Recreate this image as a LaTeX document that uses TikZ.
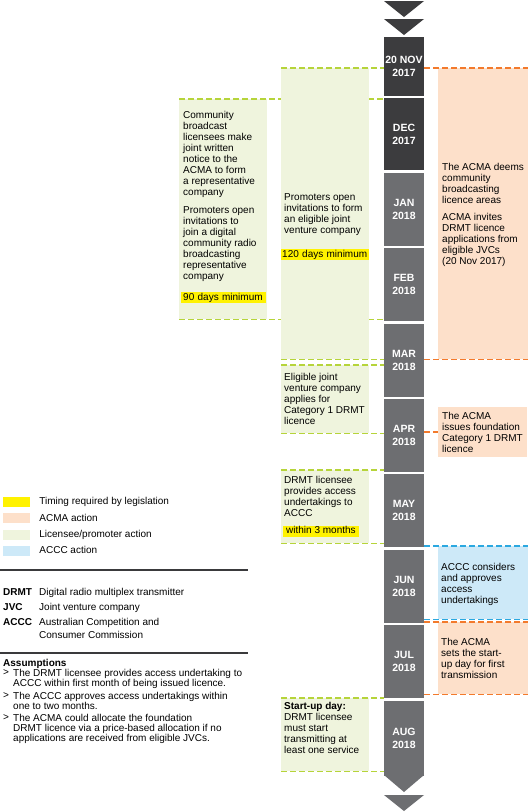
\documentclass[tikz,border=0pt]{standalone}
\usepackage{fontspec}
\setmainfont{Liberation Sans}
\usepackage{xcolor}
\usetikzlibrary{positioning}

\definecolor{darkblock}{HTML}{3C3C3E}
\definecolor{monthgrey}{HTML}{6D6E71}
\definecolor{promofill}{HTML}{EFF4DD}
\definecolor{promoline}{HTML}{B6D43A}
\definecolor{acmafill}{HTML}{FDE0CA}
\definecolor{acmaline}{HTML}{F37A2C}
\definecolor{acccfill}{HTML}{CDE9F8}
\definecolor{acccline}{HTML}{2BA8E0}
\definecolor{timing}{HTML}{FFF200}
\definecolor{rulegrey}{HTML}{3A3A3C}

\begin{document}
\begin{tikzpicture}[
x=1pt, y=-1pt, node distance=2pt,
month/.style={fill=monthgrey, text=white, minimum width=40pt, minimum height=73pt, inner sep=0pt, align=center, font=\fontsize{10.5}{13}\selectfont\bfseries},
early/.style={month, fill=darkblock},
panel/.style={anchor=north west, inner sep=0pt, minimum width=88pt},
promobox/.style={panel, fill=promofill},
acmabox/.style={panel, fill=acmafill, minimum width=90pt},
acccbox/.style={panel, fill=acccfill, minimum width=90pt},
blurb/.style={anchor=north west, inner sep=0pt, align=left, font=\fontsize{10}{11}\selectfont},
timebar/.style={anchor=north west, fill=timing, inner xsep=2pt, inner ysep=1pt, text height=7pt, text depth=2pt, align=left, font=\fontsize{10}{11}\selectfont},
promodash/.style={draw=promoline, line width=1.8pt, dash pattern=on 6pt off 3pt},
acmadash/.style={promodash, draw=acmaline},
acccdash/.style={promodash, draw=acccline},
swatch/.style={minimum width=27pt, minimum height=10pt, inner sep=0pt},
keytext/.style={inner sep=0pt, text height=7.5pt, text depth=2pt, font=\fontsize{10}{12}\selectfont},
note/.style={anchor=north west, inner sep=0pt, align=left, font=\fontsize{10}{10}\selectfont},
term/.style={note, font=\fontsize{10}{10}\selectfont\bfseries},
define/.style={note, font=\fontsize{10}{13}\selectfont},
keyrule/.style={draw=rulegrey, line width=1.2pt}
]
\fill[white] (0,0) rectangle (528,812);
\useasboundingbox (0,0) rectangle (528,812);

% timeline
\fill[darkblock] (384,1) -- (424,1) -- (404,17) -- cycle;
\fill[darkblock] (384,19) -- (424,19) -- (404,35) -- cycle;
\node[early, minimum height=59pt] (nov) at (404,66.5) {20 NOV\\2017};
\node[early, minimum height=72pt, below=of nov] (dec) {DEC\\2017};
\node[month, below=of dec] (jan) {JAN\\2018};
\node[month, below=of jan] (feb) {FEB\\2018};
\node[month, below=of feb] (mar) {MAR\\2018};
\node[month, below=of mar] (apr) {APR\\2018};
\node[month, below=of apr] (may) {MAY\\2018};
\node[month, below=of may] (jun) {JUN\\2018};
\node[month, below=of jun] (jul) {JUL\\2018};
\node[month, minimum height=75pt, below=of jul] (aug) {AUG\\2018};
\fill[monthgrey] (384,775) -- (424,775) -- (404,792) -- cycle;
\fill[monthgrey] (384,795) -- (424,795) -- (404,811) -- cycle;

% licensee / promoter actions
\node[promobox, minimum height=220pt] (notice) at (179,99) {};
\draw[promodash] (notice.north west) -- (notice.north west -| nov.west);
\draw[promodash] (notice.south west) -- (notice.south west -| nov.west);
\node[blurb] (noticetext) at (183,111.5) {Community\\broadcast\\licensees make\\joint written\\notice to the\\ACMA to form\\a representative\\company\\[7pt]Promoters open\\invitations to\\join a digital\\community radio\\broadcasting\\representative\\company};
\node[timebar, text width=81pt] (days90) at (181,292) {90 days minimum};

\node[promobox, minimum height=291pt] (invite) at (281,68) {};
\draw[promodash] (invite.north west) -- (invite.north west -| nov.west);
\draw[promodash] (invite.south west) -- (invite.south west -| nov.west);
\node[blurb] (invitetext) at (284,193.5) {Promoters open\\invitations to form\\an eligible joint\\venture company};
\node[timebar, text width=86pt, inner xsep=1pt] (days120) at (281,249) {\mbox{120 days minimum}};

\node[promobox, minimum height=68pt] (apply) at (281,365) {};
\draw[promodash] (apply.north west) -- (apply.north west -| nov.west);
\draw[promodash] (apply.south west) -- (apply.south west -| nov.west);
\node[blurb] (applytext) at (284,373) {Eligible joint\\venture company\\applies for\\Category 1 DRMT\\licence};

\node[promobox, minimum height=73pt] (access) at (281,470) {};
\draw[promodash] (access.north west) -- (access.north west -| nov.west);
\draw[promodash] (access.south west) -- (access.south west -| nov.west);
\node[blurb] (accesstext) at (284,476) {DRMT licensee\\provides access\\undertakings to\\ACCC};
\node[timebar, inner xsep=3pt] (months3) at (283,525.5) {within 3 months};

\node[promobox, minimum height=73pt] (startup) at (281,698) {};
\draw[promodash] (startup.north west) -- (startup.north west -| nov.west);
\draw[promodash] (startup.south west) -- (startup.south west -| nov.west);
\node[blurb] (startuptext) at (284,702.5) {\textbf{Start-up day:}\\DRMT licensee\\must start\\transmitting at\\least one service};

% ACMA and ACCC actions
\node[acmabox, minimum height=291pt] (deems) at (438,68) {};
\draw[acmadash] (deems.north west -| nov.east) -- (deems.north east);
\draw[acmadash] (deems.south west -| nov.east) -- (deems.south east);
\node[blurb] (deemstext) at (442,163) {The ACMA deems\\community\\broadcasting\\licence areas\\[6pt]ACMA invites\\DRMT licence\\applications from\\eligible JVCs\\(20 Nov 2017)};

\node[acmabox, minimum width=89pt, minimum height=50pt] (issue) at (438,407) {};
\draw[acmadash] (issue.west -| apr.east) -- (issue.west);
\node[blurb] (issuetext) at (442,412.5) {The ACMA\\issues foundation\\Category 1 DRMT\\licence};

\node[acccbox, minimum height=73pt] (approve) at (438,546) {};
\draw[acccdash] (approve.north west -| jun.east) -- (approve.north east);
\draw[acccdash] (approve.south west -| jun.east) -- (approve.south east);
\node[blurb] (approvetext) at (441,563.5) {ACCC considers\\and approves\\access\\undertakings};

\node[acmabox, minimum height=72pt] (setday) at (438,622) {};
\draw[acmadash] (setday.north west -| jul.east) -- (setday.north east);
\draw[acmadash] (setday.south west -| jul.east) -- (setday.south east);
\node[blurb] (setdaytext) at (441,638.5) {The ACMA\\sets the start-\\up day for first\\transmission};

% key
\node[swatch, fill=timing] (keytiming) at (16.5,502) {};
\node[swatch, fill=acmafill, below=6pt of keytiming] (keyacma) {};
\node[swatch, fill=promofill, below=6pt of keyacma] (keypromo) {};
\node[swatch, fill=acccfill, below=6pt of keypromo] (keyaccc) {};
\node[keytext, right=9pt of keytiming] (timinglabel) {Timing required by legislation};
\node[keytext, right=9pt of keyacma] (acmalabel) {ACMA action};
\node[keytext, right=9pt of keypromo] (promolabel) {Licensee/promoter action};
\node[keytext, right=9pt of keyaccc] (accclabel) {ACCC action};

\draw[keyrule] (0,570) -- (248,570);

\node[term] (drmt) at (3,588.4) {DRMT};
\node[define] (drmtdef) at (39,588.4) {Digital radio multiplex transmitter};
\node[term] (jvc) at (3,603.4) {JVC};
\node[define] (jvcdef) at (39,603.4) {Joint venture company};
\node[term] (accc) at (3,618.4) {ACCC};
\node[define] (acccdef) at (39,618.4) {Australian Competition and\\Consumer Commission};

\draw[keyrule] (0,653) -- (248,653);

% assumptions
\node[term] (assume) at (3,659.4) {Assumptions};
\node[note] (mark1) at (3,669.4) {>};
\node[note] (assume1) at (13,669.4) {The DRMT licensee provides access undertaking to\\ACCC within first month of being issued licence.};
\node[note] (mark2) at (3,692.4) {>};
\node[note] (assume2) at (13,692.4) {The ACCC approves access undertakings within\\one to two months.};
\node[note] (mark3) at (3,714.4) {>};
\node[note] (assume3) at (13,714.4) {The ACMA could allocate the foundation\\DRMT licence via a price-based allocation if no\\applications are received from eligible JVCs.};
\end{tikzpicture}
\end{document}
